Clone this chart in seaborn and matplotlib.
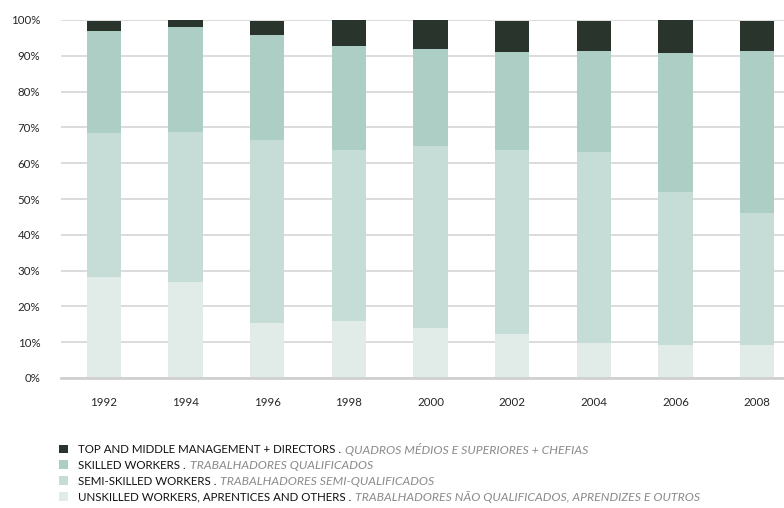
import matplotlib
matplotlib.use("Agg")
import matplotlib.pyplot as plt
from matplotlib.patches import Patch
import pandas as pd
import seaborn as sns

# Workforce composition by qualification level, share of total (%)
years = ["1992", "1994", "1996", "1998", "2000", "2002", "2004", "2006", "2008"]
unskilled = [28.1, 26.9, 15.3, 15.8, 13.9, 12.2, 9.7, 9.2, 9.2]
semi_skilled = [40.2, 41.7, 51.1, 47.9, 51.0, 51.5, 53.4, 42.8, 36.9]
skilled = [28.6, 29.4, 29.5, 29.1, 27.1, 27.4, 28.3, 38.8, 45.3]
management = [2.8, 2.0, 3.8, 7.2, 8.0, 8.6, 8.3, 9.2, 8.3]

labels_en = [
    "TOP AND MIDDLE MANAGEMENT + DIRECTORS .",
    "SKILLED WORKERS .",
    "SEMI-SKILLED WORKERS .",
    "UNSKILLED WORKERS, APRENTICES AND OTHERS .",
]
labels_pt = [
    "QUADROS MÉDIOS E SUPERIORES + CHEFIAS",
    "TRABALHADORES QUALIFICADOS",
    "TRABALHADORES SEMI-QUALIFICADOS",
    "TRABALHADORES NÃO QUALIFICADOS, APRENDIZES E OUTROS",
]
y_ticks = [0, 10, 20, 30, 40, 50, 60, 70, 80, 90, 100]

colors = ["#29352c", "#adcec4", "#c6ddd7", "#e1ece8"]

sns.set_theme(style="white")
plt.rcParams["font.family"] = ["Lato", "DejaVu Sans"]

W, H = 784, 508
fig = plt.figure(figsize=(W / 100, H / 100), dpi=100)
ax = fig.add_axes([61 / W, 130 / H, (W - 61) / W, (378 - 20) / H])

df = pd.DataFrame({
    "year": years,
    "unskilled": unskilled,
    "semi": semi_skilled,
    "skilled": skilled,
    "mgmt": management,
})
# cumulative tops, drawn tallest first so each layer sits over the next
df["c_unskilled"] = df["unskilled"]
df["c_semi"] = df["c_unskilled"] + df["semi"]
df["c_skilled"] = df["c_semi"] + df["skilled"]
df["c_mgmt"] = df["c_skilled"] + df["mgmt"]

for col, color in zip(["c_mgmt", "c_skilled", "c_semi", "c_unskilled"], colors):
    sns.barplot(data=df, x="year", y=col, order=years, color=color,
                width=0.42, saturation=1, errorbar=None, ax=ax, zorder=3,
                linewidth=0, edgecolor="none")

ax.set_ylim(0, 100)
ax.set_xlim(-0.527, 8.331)
ax.set_yticks(y_ticks)
ax.set_yticklabels([f"{t}%" for t in y_ticks])
ax.set_xlabel("")
ax.set_ylabel("")
ax.yaxis.grid(True, color="#d9d9d9", linewidth=1.3, zorder=0)
ax.xaxis.grid(False)
for s in ["left", "right", "top"]:
    ax.spines[s].set_visible(False)
ax.spines["bottom"].set_color("#d0d0d0")
ax.spines["bottom"].set_linewidth(2)
ax.spines["bottom"].set_zorder(4)
ax.tick_params(axis="y", length=0, pad=15, labelsize=8.3, labelcolor="#262626")
ax.tick_params(axis="x", length=0, pad=14, labelsize=8.3, labelcolor="#262626")

# bilingual legend: English label in the legend, Portuguese appended in italics
handles = [Patch(facecolor=c, edgecolor="none") for c in colors]
leg = fig.legend(handles, labels_en, loc="upper left",
                 bbox_to_anchor=(59 / W, 1 - 444 / H), frameon=False,
                 fontsize=8.3, handlelength=0.78, handleheight=0.78,
                 handletextpad=0.85, labelspacing=0.42, borderpad=0,
                 borderaxespad=0)
for t in leg.get_texts():
    t.set_color("#111111")

fig.canvas.draw()
renderer = fig.canvas.get_renderer()
for t, pt in zip(leg.get_texts(), labels_pt):
    bb = t.get_window_extent(renderer)
    x = (bb.x1 + 4) / W
    y = (bb.y0 + bb.y1) / 2 / H
    fig.text(x, y, pt, fontsize=8.8, style="italic", color="#8a8a8a",
             va="center", ha="left")

fig.savefig("out.png", dpi=100)
